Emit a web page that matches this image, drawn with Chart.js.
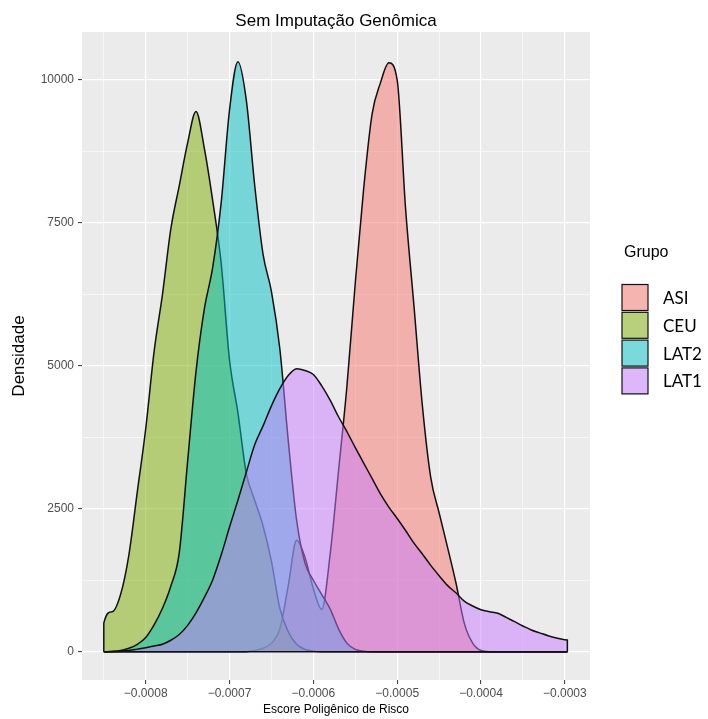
<!DOCTYPE html>
<html>
<head>
<meta charset="utf-8">
<script src="https://cdn.jsdelivr.net/npm/chart.js@4"></script>
<style>
  html, body { margin: 0; padding: 0; background: #fff; }
  #wrap { width: 708px; height: 719px; }
</style>
</head>
<body>
<div id="wrap"><canvas id="densityPlot" width="708" height="719"></canvas></div>
<script>
// Escore Poligênico de Risco grid (x) used by every density curve
const scoreGrid = [
  -0.00085, -0.00084, -0.00083, -0.00082, -0.00081, -0.00080, -0.00079, -0.00078,
  -0.00077, -0.00076, -0.00075, -0.00074, -0.00073, -0.00072, -0.00071, -0.00070,
  -0.00069, -0.00068, -0.00067, -0.00066, -0.00065, -0.00064, -0.00063, -0.00062,
  -0.00061, -0.00060, -0.00059, -0.00058, -0.00057, -0.00056, -0.00055, -0.00054,
  -0.00053, -0.00052, -0.00051, -0.00050, -0.00049, -0.00048, -0.00047, -0.00046,
  -0.00045, -0.00044, -0.00043, -0.00042, -0.00041, -0.00040, -0.00039, -0.00038,
  -0.00037, -0.00036, -0.00035, -0.00034, -0.00033, -0.00032, -0.00031, -0.00030,
  -0.000297
];

// densities
const densASI = [
  0, 0, 0, 0, 0, 0, 0, 0, 0, 0, 0, 0, 0, 0, 0, 0,
  0, 0, 20, 60, 150, 400, 1150, 1950, 1650, 1100, 740, 1700, 3160, 4640, 6450, 8100,
  9400, 9950, 10300, 10000, 7750, 6050, 4310, 3050, 2430, 1830, 1210, 500, 150, 20, 0, 0,
  0, 0, 0, 0, 0, 0, 0, 0, 0
];
const densCEU = [
  500, 700, 1000, 1700, 2800, 3900, 5250, 6250, 7400, 8150, 8900, 9450, 8800, 7880, 6800, 5100,
  4180, 3120, 2650, 2200, 1580, 760, 350, 130, 40, 10, 0, 0, 0, 0, 0, 0,
  0, 0, 0, 0, 0, 0, 0, 0, 0, 0, 0, 0, 0, 0, 0, 0,
  0, 0, 0, 0, 0, 0, 0, 0, 0
];
const densLAT2 = [
  0, 5, 20, 60, 130, 250, 470, 760, 1150, 1730, 3330, 4900, 6000, 6730, 7850, 9480,
  10320, 9650, 8160, 6950, 6300, 5300, 3700, 2300, 1550, 1250, 1000, 750, 400, 150, 40, 10,
  0, 0, 0, 0, 0, 0, 0, 0, 0, 0, 0, 0, 0, 0, 0, 0,
  0, 0, 0, 0, 0, 0, 0, 0, 0
];
const densLAT1 = [
  0, 3, 10, 22, 45, 70, 100, 130, 200, 300, 460, 680, 950, 1260, 1690, 2180,
  2650, 3140, 3620, 3950, 4300, 4600, 4830, 4950, 4920, 4850, 4650, 4400, 4110, 3850, 3570, 3300,
  3030, 2760, 2530, 2330, 2120, 1900, 1710, 1510, 1330, 1160, 1030, 885, 800, 735, 700, 672,
  600, 525, 450, 380, 330, 280, 240, 210, 205
];

// axis ticks (major get labels, minor only a thin grid line)
const xMajorTicks = [-0.0008, -0.0007, -0.0006, -0.0005, -0.0004, -0.0003];
const xMinorTicks = [-0.00085, -0.00075, -0.00065, -0.00055, -0.00045, -0.00035];
const yMajorTicks = [0, 2500, 5000, 7500, 10000];
const yMinorTicks = [1250, 3750, 6250, 8750];

const groups = ['ASI', 'CEU', 'LAT2', 'LAT1'];
const groupDens = [densASI, densCEU, densLAT2, densLAT1];
const groupFill = ['rgba(248,118,109,0.5)', 'rgba(124,174,0,0.5)', 'rgba(0,191,196,0.5)', 'rgba(199,124,255,0.5)'];

// close each outline down to zero at the ends, like geom_density
function densityPoints(values) {
  const pts = values.map((v, i) => ({ x: scoreGrid[i], y: v }));
  const last = scoreGrid.length - 1;
  if (values[0] > 0) pts.unshift({ x: scoreGrid[0] - 1e-9, y: 0 });
  if (values[last] > 0) pts.push({ x: scoreGrid[last] + 1e-9, y: 0 });
  return pts;
}

const datasets = groups.map((g, i) => ({
  label: g,
  data: densityPoints(groupDens[i]),
  backgroundColor: groupFill[i],
  borderColor: '#111',
  borderWidth: 1.5,
  fill: 'origin',
  pointRadius: 0,
  cubicInterpolationMode: 'monotone',
  order: groups.length - i
}));
datasets.push({
  label: 'base',
  data: [{ x: scoreGrid[0], y: 0 }, { x: scoreGrid[scoreGrid.length - 1], y: 0 }],
  borderColor: '#111',
  borderWidth: 1.6,
  fill: false,
  pointRadius: 0,
  order: 0
});

function isIn(list, v) {
  return list.some(t => Math.abs(t - v) < Math.abs(t || 1) * 1e-6);
}
function setTicks(major, minor) {
  return scale => {
    scale.ticks = major.concat(minor).sort((a, b) => a - b).map(v => ({ value: v }));
  };
}
function gridStyle(major) {
  return {
    color: '#FFFFFF',
    lineWidth: c => isIn(major, c.tick.value) ? 1.2 : 0.6,
    tickColor: c => isIn(major, c.tick.value) ? '#333333' : 'rgba(0,0,0,0)',
    tickLength: 4,
    tickWidth: 1
  };
}

const panelBg = {
  id: 'panelBg',
  beforeDraw(chart) {
    const { ctx, chartArea: a } = chart;
    ctx.save();
    ctx.fillStyle = '#EBEBEB';
    ctx.fillRect(a.left, a.top, a.right - a.left, a.bottom - a.top);
    ctx.restore();
  }
};

const titleAndLegend = {
  id: 'titleAndLegend',
  afterDraw(chart) {
    const { ctx, chartArea: a } = chart;
    ctx.save();
    ctx.fillStyle = '#000';
    ctx.textAlign = 'center';
    ctx.textBaseline = 'alphabetic';
    ctx.font = '17px "Liberation Sans", Arial, sans-serif';
    ctx.fillText('Sem Imputação Genômica', (a.left + a.right) / 2, 26);

    ctx.textAlign = 'left';
    ctx.font = '16px "Liberation Sans", Arial, sans-serif';
    ctx.fillText('Grupo', 624, 257);
    groups.forEach((g, i) => {
      const y = 284.5 + i * 27.8;
      ctx.fillStyle = '#F2F2F2';
      ctx.fillRect(622, y, 26, 26);
      ctx.fillStyle = groupFill[i];
      ctx.fillRect(622, y, 26, 26);
      ctx.strokeStyle = '#111';
      ctx.lineWidth = 1.2;
      ctx.strokeRect(622, y, 26, 26);
      ctx.fillStyle = '#000';
      ctx.textBaseline = 'middle';
      ctx.font = '17px Lato, "Open Sans", sans-serif';
      ctx.fillText(g, 663, y + 14);
    });
    ctx.restore();
  }
};

new Chart(document.getElementById('densityPlot'), {
  type: 'line',
  data: { datasets },
  options: {
    responsive: false,
    animation: false,
    layout: { padding: { top: 32, right: 118, bottom: 0, left: 0 } },
    plugins: { legend: { display: false }, tooltip: { enabled: false } },
    scales: {
      x: {
        type: 'linear',
        bounds: 'data',
        min: -0.000876,
        max: -0.00027,
        afterBuildTicks: setTicks(xMajorTicks, xMinorTicks),
        afterFit: s => { s.height = 39; },
        border: { display: false },
        grid: gridStyle(xMajorTicks),
        ticks: {
          autoSkip: false,
          maxRotation: 0,
          padding: 2,
          color: '#4D4D4D',
          font: { family: '"Liberation Sans", Arial, sans-serif', size: 12 },
          callback: v => isIn(xMajorTicks, v) ? v.toFixed(4).replace('-', '\u2212') : ''
        },
        title: {
          display: true,
          text: 'Escore Poligênico de Risco',
          color: '#000',
          font: { family: '"Liberation Sans", Arial, sans-serif', size: 12 },
          padding: { top: 0, bottom: 2 }
        }
      },
      y: {
        type: 'linear',
        bounds: 'data',
        min: -495,
        max: 10840,
        afterBuildTicks: setTicks(yMajorTicks, yMinorTicks),
        afterFit: s => { s.width = 82; },
        border: { display: false },
        grid: gridStyle(yMajorTicks),
        ticks: {
          autoSkip: false,
          padding: 4,
          color: '#4D4D4D',
          font: { family: '"Liberation Sans", Arial, sans-serif', size: 12 },
          callback: v => isIn(yMajorTicks, v) ? String(v) : ''
        },
        title: {
          display: true,
          text: 'Densidade',
          color: '#000',
          font: { family: '"Liberation Sans", Arial, sans-serif', size: 17 },
          padding: { top: 9, bottom: 0 }
        }
      }
    }
  },
  plugins: [panelBg, titleAndLegend]
});
</script>
</body>
</html>
